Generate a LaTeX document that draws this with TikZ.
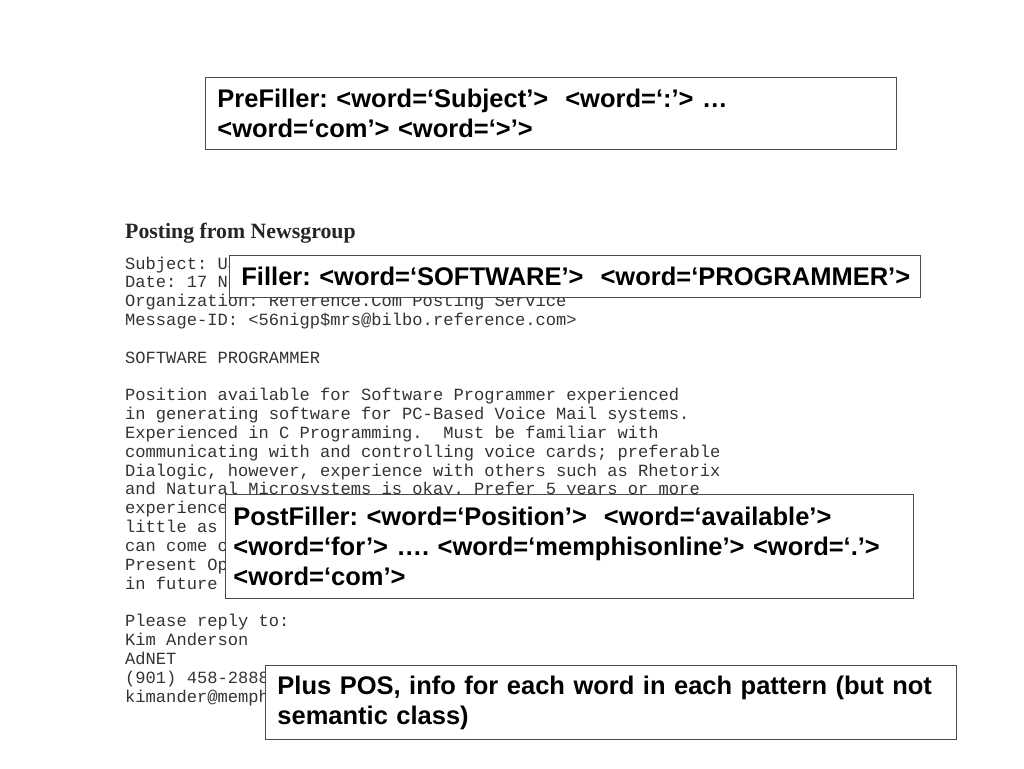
\documentclass[tikz,border=0pt]{standalone}
\usepackage{fontspec}
\setmainfont{Liberation Sans}
\newfontfamily\postfont{Liberation Serif}
\newfontfamily\mailfont{Liberation Mono}
\frenchspacing

\tikzset{
	patbox/.style={draw=black!70,line width=0.8pt,fill=white,anchor=north west,
		inner xsep=12pt,inner ysep=0pt,text width=667pt,align=left,
		font=\bfseries\fontsize{25.5}{30}\selectfont},
	mailline/.style={anchor=base west,inner sep=0pt,text=black!80,
		font=\mailfont\fontsize{17.1}{18.8}\selectfont}
}

\begin{document}
\begin{tikzpicture}[x=1pt,y=-1pt]
		\useasboundingbox (0,0) rectangle (1024,768);

		\node[anchor=base west,inner sep=0pt,text=black!85,font=\postfont\bfseries\fontsize{21.8}{26}\selectfont] (title) at (125,238) {Posting from Newsgroup};

		\foreach \txt [count=\i] in {Subject: US,Date: 17 No,Organization: Reference.Com Posting Service,
			Message-ID: <56nigp\$mrs@bilbo.reference.com>,{},SOFTWARE PROGRAMMER,{},
			Position available for Software Programmer experienced,
			in generating software for PC-Based Voice Mail systems.,
			Experienced in C Programming.\ \ Must be familiar with,
			communicating with and controlling voice cards; preferable,
			{Dialogic, however, experience with others such as Rhetorix},
			and Natural Microsystems is okay. Prefer 5 years or more,
			experience,little as,can come o,Present Op,in future,{},
			Please reply to:,Kim Anderson,AdNET,(901) 458-2888,kimander@memphi}
			\node[mailline] (line\i) at (125,{269+18.83*(\i-1)}) {\txt};

		\node[patbox,minimum height=72pt] (prefill) at (205,77) {PreFiller: <word=‘Subject’> \ <word=‘:’> …\\<word=‘com’> <word=‘>’>};
		\node[patbox,minimum height=42pt] (filler) at (229,255) {\mbox{Filler: <word=‘SOFTWARE’> \ <word=‘PROGRAMMER’>}};
		\node[patbox,inner xsep=8pt,text width=672pt,minimum height=104pt] (postfill) at (225,494) {PostFiller: <word=‘Position’> \ <word=‘available’>\\<word=‘for’> …. <word=‘memphisonline’> <word=‘.’>\\<word=‘com’>};
		\node[patbox,minimum height=74pt] (plus) at (265,665) {Plus POS, info for each word in each pattern (but not\\semantic class)};

	\end{tikzpicture}
\end{document}
